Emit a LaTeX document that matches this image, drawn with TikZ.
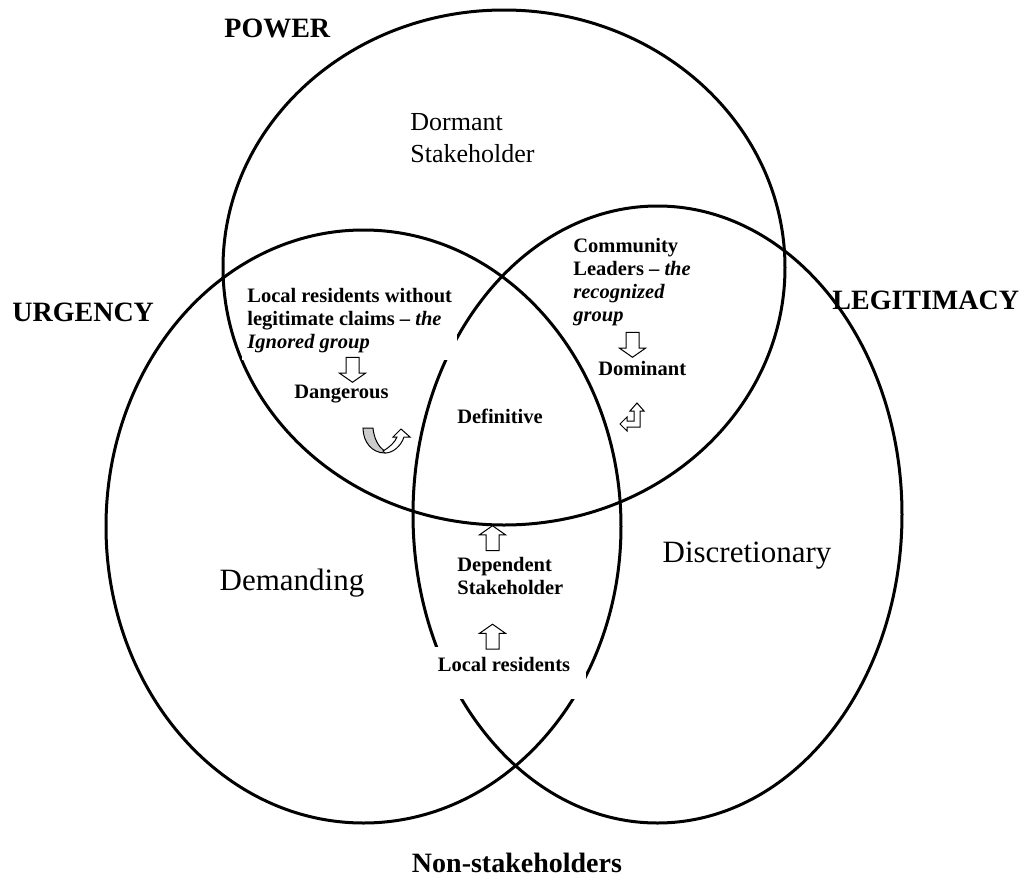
\documentclass[tikz,border=0pt]{standalone}
\usepackage{fontspec}
\setmainfont{Liberation Serif}
\usetikzlibrary{shapes.geometric,shapes.arrows}

\begin{document}
\begin{tikzpicture}[x=0.5pt, y=-0.5pt]
	\tikzset{cercle/.style={ellipse, draw=black, line width=1.5pt, inner sep=0pt},
	titre/.style={font=\fontsize{14}{17}\selectfont\bfseries, inner sep=0pt},
	zone/.style={font=\fontsize{15.5}{18}\selectfont, inner sep=0pt},
	groupe/.style={font=\fontsize{10.25}{11.4}\selectfont\bfseries, align=left, inner sep=0pt},
	fleche/.style={single arrow, draw=black, fill=white, line width=0.5pt, minimum height=12.5pt,
		inner xsep=0pt, inner ysep=3pt, single arrow head extend=3.25pt, single arrow tip angle=110}};

	\useasboundingbox (0,0) rectangle (1025,879);

	% the three attributes
	\foreach \name/\x/\y/\w/\h in {power/504/267.5/281/257.5, urgency/363.5/526.5/257.5/296.5, legitimacy/657.5/514.5/244.5/308.5}{
		\node[cercle, minimum width=\w pt, minimum height=\h pt] (\name) at (\x,\y) {};
	}

	\node[titre, anchor=base west] (l-power) at (224,37) {POWER};
	\node[titre, anchor=base west] (l-urgency) at (12,321) {URGENCY};
	\node[titre, anchor=base west] (l-legitimacy) at (832,309) {LEGITIMACY};
	\node[titre, anchor=base] (l-non) at (517,872) {Non-stakeholders};

	\node[font=\fontsize{13}{16}\selectfont, align=left, inner sep=0pt, anchor=north west] (dormant) at (410,113) {Dormant\\Stakeholder};
	\node[zone, anchor=base] (demanding) at (292,590) {Demanding};
	\node[zone, anchor=base] (discretionary) at (747,562) {Discretionary};

	\node[groupe, anchor=north west, fill=white, inner xsep=2.5pt, inner ysep=3.5pt] (ignored) at (242,281)
		{Local residents without\\legitimate claims – \textit{the}\\\textit{Ignored group}};
	\node[groupe, anchor=base west] (dangerous) at (294,398) {Dangerous};
	\node[groupe, anchor=north west] (community) at (573,238) {Community\\Leaders – \textit{the}\\\textit{recognized}\\\textit{group}};
	\node[groupe, anchor=base west] (dominant) at (598,375) {Dominant};
	\node[groupe, anchor=base] (definitive) at (500,423) {Definitive};
	\node[groupe, anchor=north west] (dependent) at (457,557) {Dependent\\Stakeholder};
	\node[groupe, anchor=base, fill=white, minimum width=81.5pt, text height=12pt, text depth=14pt] (residents) at (504,671) {Local residents};

	% block arrows
	\foreach \name/\x/\y/\r in {a-dangerous/352.5/367.5/-90, a-dominant/632.5/342.5/-90, a-dependent/492.5/540.5/90, a-residents/492.5/639/90}{
		\node[fleche, rotate=\r] (\name) at (\x,\y) {};
	}

	% left-up arrow
	\draw[line width=0.5pt, fill=white] (637,403) -- (644,411) -- (640,411) -- (640,427) -- (627,427) -- (627,431)
		-- (620,424) -- (627,417) -- (627,421) -- (634,421) -- (634,411) -- (630,411) -- cycle;

	% curved up arrow
	\draw[line width=0.5pt, fill=gray!40] (363,428) -- (373,428) .. controls (374,438) and (378,447) .. (385,451)
		-- (385,453) .. controls (372,453) and (363,442) .. (363,428) -- cycle;
	\draw[line width=0.5pt, fill=white] (383,451) .. controls (390,447) and (395,442) .. (397,437) -- (393,437)
		-- (401,429) -- (410,437) -- (404,437) .. controls (401,446) and (393,453) .. (385,453) -- cycle;

\end{tikzpicture}
\end{document}
